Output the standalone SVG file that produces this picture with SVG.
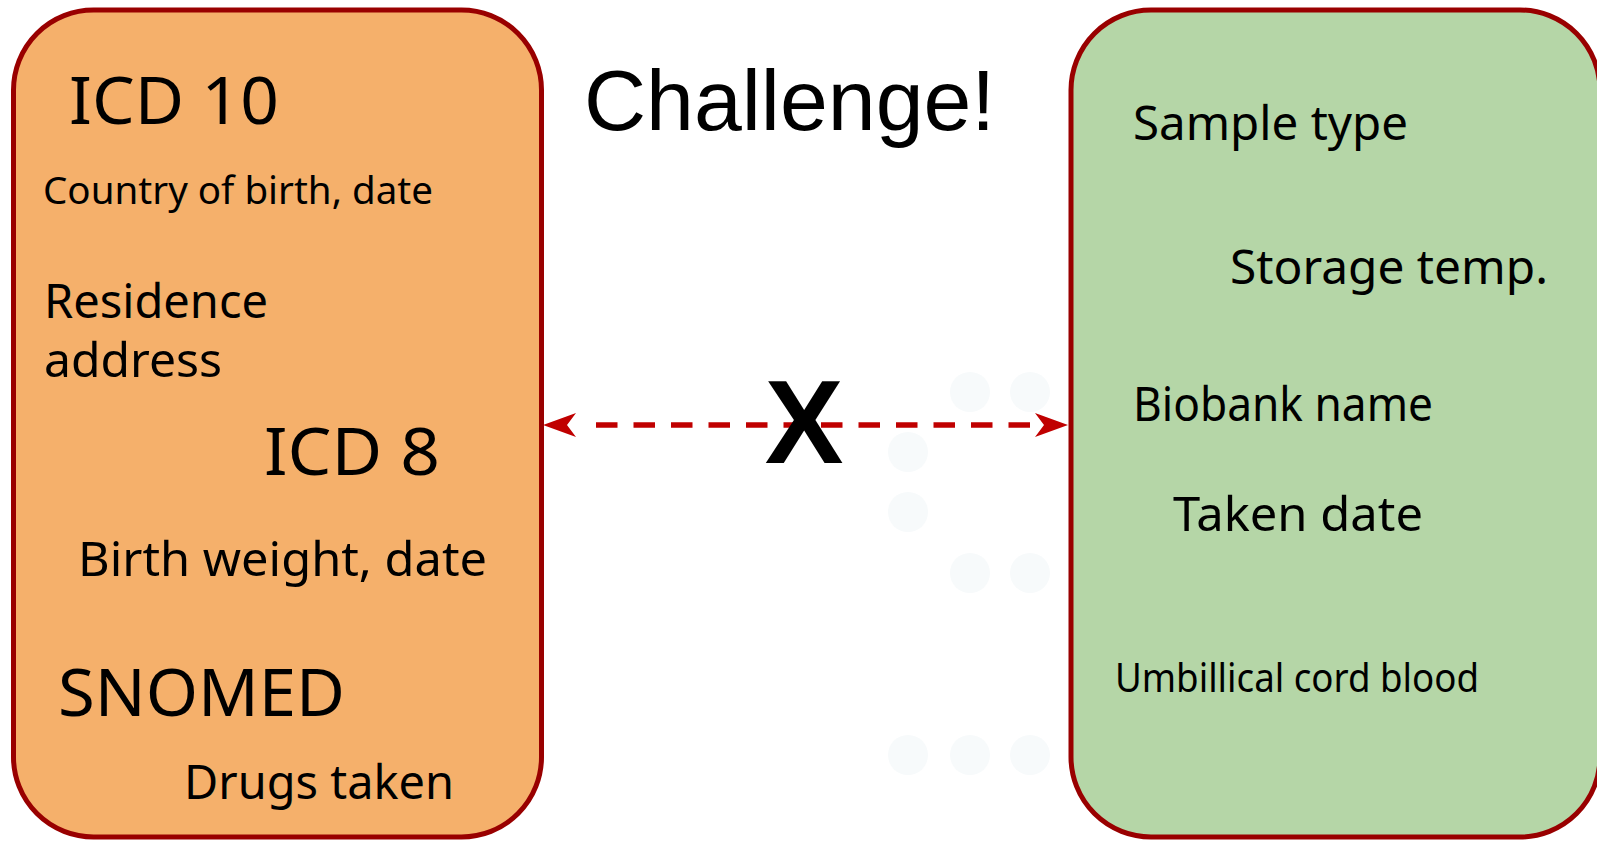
<svg xmlns="http://www.w3.org/2000/svg" width="1597" height="841" viewBox="0 0 1597 841">
  <style>
    .box { stroke: #990000; stroke-width: 5; }
    .left { fill: #F5B06B; }
    .right { fill: #B5D6A7; }
    .hand { font-family: "Noto Sans", "DejaVu Sans", sans-serif; fill: #000000; }
    .big { font-size: 66px; }
    .mid { font-size: 48px; }
    .small { font-size: 38px; }
    .dot { fill: #F7FAFB; }
    .conn { stroke: #C00000; stroke-width: 5.5; fill: none; stroke-dasharray: 21.5 16; }
    .head { fill: #C00000; }
  </style>
  <defs>
    <polygon id="headL" points="0,0 33,-12 24,0 33,12"/>
  </defs>
  <rect width="1597" height="841" fill="#FFFFFF"/>

  <g id="background-dots">
    <circle class="dot" cx="970" cy="392" r="20"/>
    <circle class="dot" cx="1030" cy="392" r="20"/>
    <circle class="dot" cx="908" cy="452" r="20"/>
    <circle class="dot" cx="908" cy="512" r="20"/>
    <circle class="dot" cx="970" cy="573" r="20"/>
    <circle class="dot" cx="1030" cy="573" r="20"/>
    <circle class="dot" cx="908" cy="755" r="20"/>
    <circle class="dot" cx="970" cy="755" r="20"/>
    <circle class="dot" cx="1030" cy="755" r="20"/>
  </g>

  <g id="node-left">
    <rect class="box left" x="13.5" y="10" width="528" height="827" rx="80" ry="80"/>
    <text class="hand big" x="69" y="124" textLength="210" lengthAdjust="spacingAndGlyphs">ICD 10</text>
    <text class="hand small" x="43" y="204" textLength="390" lengthAdjust="spacingAndGlyphs">Country of birth, date</text>
    <text class="hand mid" x="44" y="318" textLength="224" lengthAdjust="spacingAndGlyphs">Residence</text>
    <text class="hand mid" x="44" y="377" textLength="178" lengthAdjust="spacingAndGlyphs">address</text>
    <text class="hand big" x="264" y="475" textLength="176" lengthAdjust="spacingAndGlyphs">ICD 8</text>
    <text class="hand mid" x="78" y="576" textLength="409" lengthAdjust="spacingAndGlyphs">Birth weight, date</text>
    <text class="hand big" x="58" y="716" textLength="287" lengthAdjust="spacingAndGlyphs">SNOMED</text>
    <text class="hand mid" x="184" y="799" textLength="270" lengthAdjust="spacingAndGlyphs">Drugs taken</text>
  </g>

  <g id="node-right">
    <rect class="box right" x="1071" y="10" width="529" height="827" rx="80" ry="80"/>
    <text class="hand mid" x="1133" y="140" textLength="275" lengthAdjust="spacingAndGlyphs">Sample type</text>
    <text class="hand mid" x="1230" y="284" textLength="318" lengthAdjust="spacingAndGlyphs">Storage temp.</text>
    <text class="hand mid" x="1133" y="421" textLength="300" lengthAdjust="spacingAndGlyphs">Biobank name</text>
    <text class="hand mid" x="1173" y="531" textLength="250" lengthAdjust="spacingAndGlyphs">Taken date</text>
    <text class="hand" style="font-size:40px" x="1115" y="692" textLength="364" lengthAdjust="spacingAndGlyphs">Umbillical cord blood</text>
  </g>

  <g id="title">
    <text x="584" y="130" style="font-family:'Liberation Sans', Arial, sans-serif; font-size:86px;" fill="#000000">Challenge!</text>
  </g>

  <g id="connectors">
    <path class="conn" d="M 1030 425 L 581 425"/>
    <use href="#headL" class="head" transform="translate(543,425)"/>
    <use href="#headL" class="head" transform="translate(1068,425) scale(-1,1)"/>
  </g>

  <g id="cross">
    <text x="804" y="463" text-anchor="middle" style="font-family:'Liberation Sans', Arial, sans-serif; font-size:118px; font-weight:bold;" fill="#000000">X</text>
  </g>
</svg>
